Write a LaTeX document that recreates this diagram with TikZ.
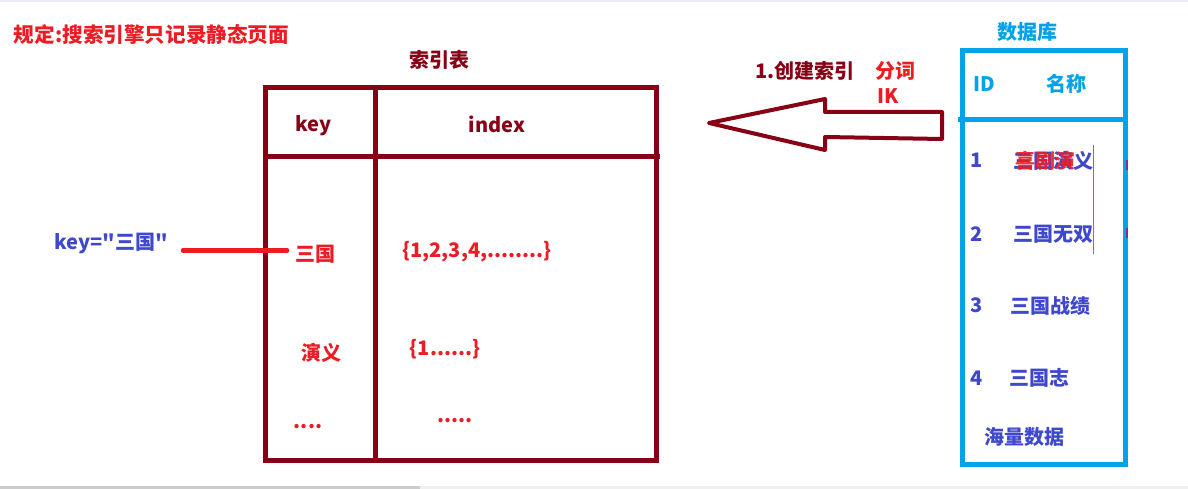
\documentclass[tikz,border=0pt]{standalone}
\usepackage{fontspec}
\setmainfont{Noto Sans CJK SC}
\newfontfamily\plainfont{Noto Sans CJK SC}
\definecolor{dred}{HTML}{880015}
\definecolor{lred}{HTML}{ED1C24}
\definecolor{indg}{HTML}{3F48CC}
\definecolor{cyanb}{HTML}{00A2E8}
\begin{document}
\begin{tikzpicture}[x=1pt,y=-1pt,
  txt/.style={inner sep=0pt, font=\bfseries\fontsize{20}{24}\selectfont},
  dtxt/.style={txt, text=dred},
  rtxt/.style={txt, text=lred},
  btxt/.style={txt, text=indg},
  ctxt/.style={txt, text=cyanb},
  tline/.style={dred, line width=5pt},
  dbline/.style={cyanb, line width=5pt}]
\useasboundingbox (0,0) rectangle (1188,489);
\fill[white] (0,0) rectangle (1188,489);
% window edges
\fill[black!12!blue!8!white] (0,0) rectangle (1188,2);
\fill[black!6] (0,486) rectangle (1188,489);
\fill[black!20] (0,486) rectangle (420,489);

% title
\node[rtxt, font=\bfseries\fontsize{20.6}{24}\selectfont] (rule) at (151.5,35) {规定:搜索引擎只记录静态页面};

% index table
\node[dtxt] (ttl) at (439,60) {索引表};
\draw[tline] (265,88) rectangle (656,460);
\draw[tline] (375.5,88) -- (375.5,460);
\draw[tline] (265,156.5) -- (660,156.5);
\node[dtxt] (hkey) at (313.5,126) {key};
\node[dtxt] (hidx) at (497,124) {index};
\node[rtxt] (k1) at (315,254) {三国};
\node[rtxt] (v1) at (477,252) {\{1,2,3,4,........\}};
\node[rtxt] (k2) at (321,353) {演义};
\node[rtxt] (v2) at (445,349) {\{1......\}};
\node[rtxt] (k3) at (308,427) {....};
\node[rtxt] (v3) at (455,421) {.....};

% query
\node[btxt, font=\plainfont\bfseries\fontsize{20}{24}\selectfont] (q) at (111.5,243) {key="三国"};
\coordinate (qa) at (183,250.5);
\coordinate (qb) at (287,250.5);
\draw[lred, line width=4.5pt, line cap=round] (qa) -- (qb);

% big arrow
\draw[dred, line width=4pt, line join=round]
  (709,123) -- (825,99) -- (825,112) -- (942,112) -- (942,139) -- (825,137) -- (825,150) -- cycle;
\node[dtxt] (mk) at (805,71) {1.创建索引};
\node[rtxt] (fc) at (895,71) {分词};
\node[rtxt] (ik) at (888,96) {IK};

% database
\node[ctxt] (dbt) at (1027,32) {数据库};
\draw[dbline] (962.5,50.5) rectangle (1125.5,464.5);
\draw[dbline] (958,119.5) -- (1125.5,119.5);
\node[ctxt] (hid) at (984,84) {ID};
\node[ctxt] (hname) at (1066,84) {名称};
\node[btxt] (n1) at (977,160) {1};
\begin{scope}
\clip (965,140) rectangle (1093,260);
\node[btxt] (r1) at (1053,161) {三国演义};
\node[btxt] (r2) at (1053,234.5) {三国无双};
\end{scope}
\node[rtxt, opacity=0.9] (r1b) at (1045,161) {喜剧演};
\draw[cyanb, line width=1pt] (1093,145) -- (1093,254);
\fill[indg!70!red] (1126,160) rectangle (1128,170);
\fill[indg!70!red] (1126,228) rectangle (1128,238);
\node[btxt] (n2) at (977,234.5) {2};
\node[btxt] (n3) at (977,305) {3};
\node[btxt] (r3) at (1050,306) {三国战绩};
\node[btxt] (n4) at (977,378) {4};
\node[btxt] (r4) at (1039,378) {三国志};
\node[btxt] (mass) at (1024,437) {海量数据};
\end{tikzpicture}
\end{document}
